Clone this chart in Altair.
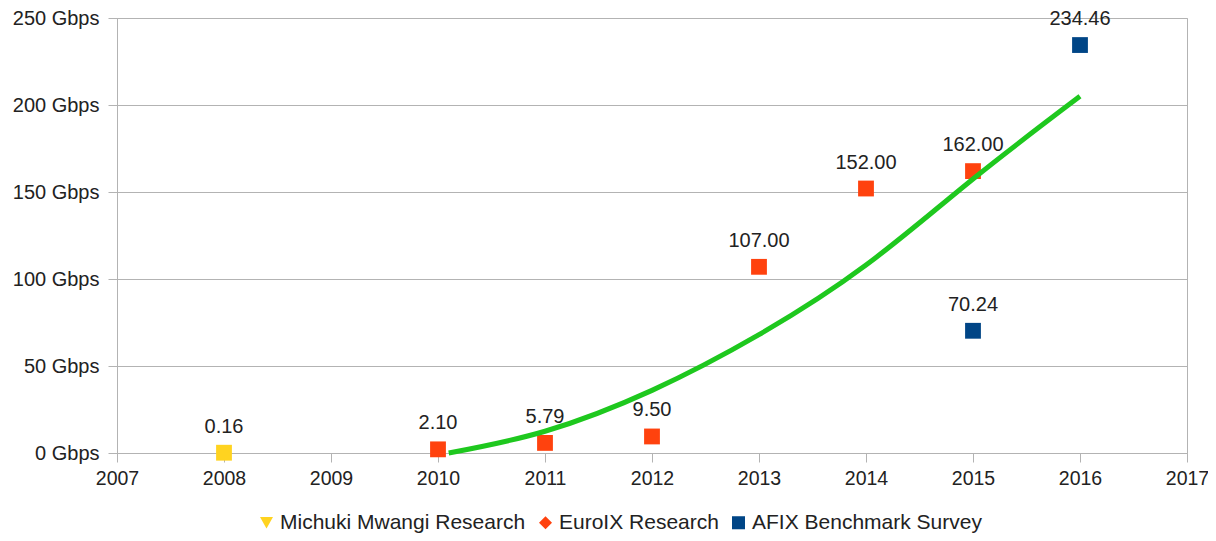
import altair as alt
import pandas as pd

# Series data
series_names = ["Michuki Mwangi Research", "EuroIX Research", "AFIX Benchmark Survey"]
series_colors = ["#ffd320", "#ff420e", "#004586"]
legend_shapes = ["triangle-down", "diamond", "square"]

michuki_years = [2008]
michuki_values = [0.16]

euroix_years = [2010, 2011, 2012, 2013, 2014, 2015]
euroix_values = [2.10, 5.79, 9.50, 107.00, 152.00, 162.00]

afix_years = [2015, 2016]
afix_values = [70.24, 234.46]

# Trend line values
trend_years = [2010.1, 2011, 2012, 2013, 2014, 2015, 2016]
trend_values = [0, 12.5, 36, 68, 108, 157.5, 205]

x_ticks = list(range(2007, 2018))
y_ticks = [0, 50, 100, 150, 200, 250]

rows = []
for y, v in zip(michuki_years, michuki_values):
    rows.append({"year": y, "value": v, "series": series_names[0]})
for y, v in zip(euroix_years, euroix_values):
    rows.append({"year": y, "value": v, "series": series_names[1]})
for y, v in zip(afix_years, afix_values):
    rows.append({"year": y, "value": v, "series": series_names[2]})
pts = pd.DataFrame(rows)
trend = pd.DataFrame({"year": trend_years, "value": trend_values})

FONT = "Liberation Sans"
TXT = "#222222"
GRID = "#b3b3b3"

xs = alt.X("year:Q",
           scale=alt.Scale(domain=[2007, 2017], nice=False, zero=False),
           axis=alt.Axis(values=x_ticks, format="d", title=None, grid=False,
                         labelFlush=False, labelOverlap=False,
                         domainColor=GRID, tickColor=GRID, tickSize=9,
                         labelFontSize=19.5, labelColor=TXT, labelFont=FONT,
                         labelPadding=7))
ys = alt.Y("value:Q",
           scale=alt.Scale(domain=[0, 250], nice=False),
           axis=alt.Axis(values=y_ticks, labelExpr="datum.value + ' Gbps'", title=None,
                         grid=True, gridColor=GRID, domainColor=GRID,
                         labelFlush=False, labelOverlap=False,
                         tickColor=GRID, tickSize=9, labelFontSize=20,
                         labelColor=TXT, labelFont=FONT, labelPadding=9))

color_scale = alt.Scale(domain=series_names, range=series_colors)

legend_layer = alt.Chart(pts).mark_point(filled=True, size=1, opacity=1).encode(
    x=xs, y=ys,
    color=alt.Color("series:N", scale=color_scale, sort=series_names,
                    legend=alt.Legend(title=None, orient="none", direction="horizontal",
                                      legendX=139, legendY=494, labelLimit=0,
                                      labelFontSize=21, labelFont=FONT, labelColor=TXT,
                                      symbolSize=170, symbolOpacity=1, symbolStrokeWidth=0,
                                      columnPadding=9, labelOffset=3)),
    shape=alt.Shape("series:N", scale=alt.Scale(domain=series_names, range=legend_shapes),
                    sort=series_names),
)

trend_line = alt.Chart(trend).mark_line(color="#1ec81e", strokeWidth=5,
                                        interpolate="natural").encode(x=xs, y=ys)

points = alt.Chart(pts).mark_point(shape="square", filled=True, size=250, opacity=1).encode(
    x=xs, y=ys,
    color=alt.Color("series:N", scale=color_scale, legend=None),
)

labels = alt.Chart(pts).mark_text(dy=-26, fontSize=20, font=FONT, color=TXT).encode(
    x=xs, y=ys,
    text=alt.Text("value:Q", format=".2f"),
)

chart = alt.layer(legend_layer, points, trend_line, labels).properties(
    width=1070, height=435,
    autosize=alt.AutoSizeParams(type="none"),
    padding={"left": 109, "top": 10, "right": 21, "bottom": 80},
).configure_view(stroke=GRID, strokeWidth=1)

chart.save("out.html", embed_options={"renderer": "svg", "actions": False})
